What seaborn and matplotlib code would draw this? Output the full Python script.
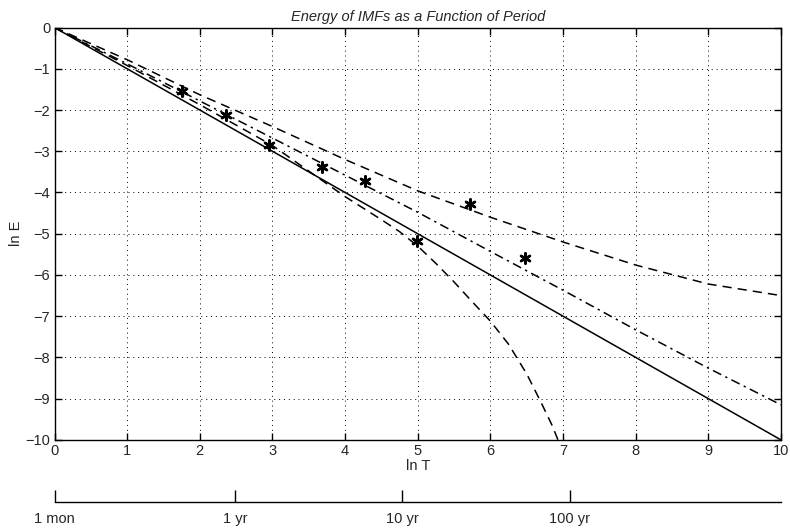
import numpy as np
import pandas as pd
import seaborn as sns
import matplotlib
matplotlib.use("Agg")
import matplotlib.pyplot as plt

# valores (ln T, ln E)
x_solido = [0, 10]
y_solido = [0, -10]

x_punto_raya = [0, 1, 2, 3, 4, 5, 6, 7, 8, 9, 10]
y_punto_raya = [0, -0.88, -1.78, -2.68, -3.58, -4.48, -5.43, -6.37, -7.33, -8.26, -9.15]

x_sup = [0, 1, 2, 3, 4, 5, 6, 7, 8, 9, 10]
y_sup = [0, -0.78, -1.63, -2.4, -3.2, -3.96, -4.6, -5.2, -5.76, -6.22, -6.5]

x_inf = [0, 1, 2, 3, 4, 4.5, 4.75, 5, 5.25, 5.5, 5.75, 6, 6.25, 6.5, 6.7, 6.85, 6.93]
y_inf = [0, -0.92, -1.87, -2.86, -4.1, -4.66, -4.95, -5.3, -5.72, -6.17, -6.65,
         -7.12, -7.68, -8.4, -9.1, -9.65, -10]

x_estrellas = [1.75, 2.36, 2.95, 3.68, 4.27, 4.99, 5.72, 6.48]
y_estrellas = [-1.54, -2.12, -2.84, -3.39, -3.72, -5.18, -4.27, -5.58]

periodos = ["1 mon", "1 yr", "10 yr", "100 yr"]
meses = [1, 12, 120, 1200]

sns.set_style("white")
plt.rcParams["font.family"] = ["Liberation Sans", "DejaVu Sans"]
plt.rcParams["axes.unicode_minus"] = True

fig = plt.figure(figsize=(7.9, 5.3), dpi=100)
ax = fig.add_axes([0.069, 0.170, 0.9196, 0.778])

df_sol = pd.DataFrame({"lnT": x_solido, "lnE": y_solido})
df_pr = pd.DataFrame({"lnT": x_punto_raya, "lnE": y_punto_raya})
df_sup = pd.DataFrame({"lnT": x_sup, "lnE": y_sup})
df_inf = pd.DataFrame({"lnT": x_inf, "lnE": y_inf})
df_est = pd.DataFrame({"lnT": x_estrellas, "lnE": y_estrellas})

sns.lineplot(data=df_sol, x="lnT", y="lnE", ax=ax, color="black", lw=1.1, sort=False)
sns.lineplot(data=df_pr, x="lnT", y="lnE", ax=ax, color="black", lw=1.1,
             sort=False, linestyle=(0, (6, 3, 1.5, 3)))
sns.lineplot(data=df_sup, x="lnT", y="lnE", ax=ax, color="black", lw=1.1,
             sort=False, linestyle=(0, (6, 4)))
sns.lineplot(data=df_inf, x="lnT", y="lnE", ax=ax, color="black", lw=1.1,
             sort=False, linestyle=(0, (6, 4)))
sns.scatterplot(data=df_est, x="lnT", y="lnE", ax=ax, color="black", marker=(6, 2, 0),
                s=55, edgecolor="black", linewidth=1.8, zorder=5)

ax.set_xlim(0, 10)
ax.set_ylim(-10, 0)
ax.set_xticks(range(0, 11))
ax.set_yticks(range(-10, 1))
ax.grid(True, color="black", linestyle=(0, (1, 4)), linewidth=0.7)
ax.tick_params(direction="in", bottom=True, left=True, top=True, right=True,
               length=5, width=1, color="black", labelsize=10.5, pad=3)
for s in ax.spines.values():
    s.set_color("black")
    s.set_linewidth(1.0)
ax.set_xlabel("ln T", fontsize=10.5, labelpad=1)
ax.set_ylabel("ln E", fontsize=10.5, labelpad=2)
ax.set_title("Energy of IMFs as a Function of Period", fontsize=10.5, style="italic", pad=5)

# eje secundario con periodos
ax2 = fig.add_axes([0.069, 0.053, 0.9196, 0.001])
ax2.set_xlim(0, 10)
ax2.set_ylim(0, 1)
ax2.set_yticks([])
for lado in ["top", "left", "right"]:
    ax2.spines[lado].set_visible(False)
ax2.spines["bottom"].set_color("black")
ax2.spines["bottom"].set_linewidth(1.0)
ax2.set_xticks(np.log(meses))
ax2.set_xticklabels(periodos)
ax2.tick_params(axis="x", direction="in", bottom=True, length=9, width=1,
                color="black", labelsize=10.5, pad=7)
ax2.patch.set_visible(False)

fig.savefig("out.png", dpi=100)
